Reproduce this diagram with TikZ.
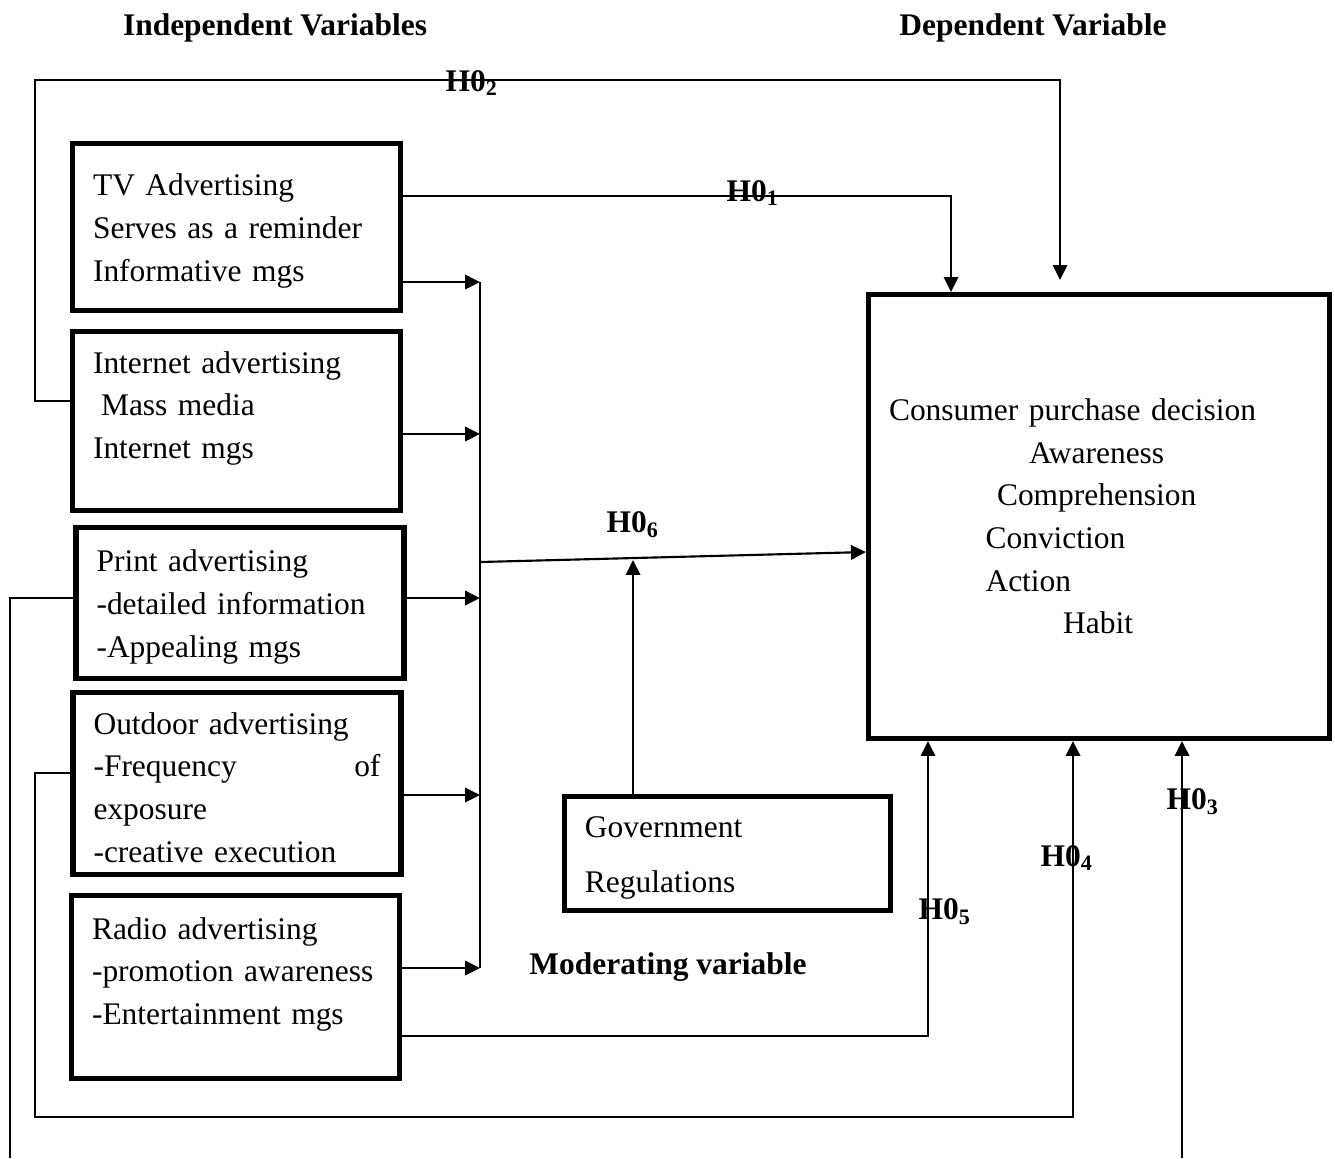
\documentclass[tikz,border=0pt]{standalone}
\usepackage{fontspec}
\setmainfont{Liberation Serif}
\usetikzlibrary{arrows.meta, positioning}

\begin{document}
\begin{tikzpicture}[x=0.375pt, y=-0.375pt,
        font=\fontsize{11.8}{16}\selectfont,
        block/.style={rectangle, draw, line width=1.9pt, align=left, inner xsep=7.7pt, inner ysep=0pt, text width=107.6pt, text height=11.2pt},
        line/.style={draw, line width=0.8pt, -{Triangle[length=5.6pt, width=5.4pt]}},
        link/.style={draw, line width=0.8pt},
        hyp/.style={font=\fontsize{11.8}{16}\selectfont\bfseries},
        heading/.style={font=\fontsize{11.8}{16}\selectfont\bfseries}
    ]
        \useasboundingbox (0,0) rectangle (1335,1158);
        % Headings
        \node[heading] (indep) at (275,28) {Independent Variables};
        \node[heading] (dep) at (1033,28) {Dependent Variable};
        % Independent variables
        \node[block, minimum height=62.6pt] (tv) at (236.5,227) {TV Advertising\\ Serves as a reminder\\ Informative mgs};
        \node[block, minimum height=67.1pt, text height=12.2pt] (internet) at (236.5,421) {Internet advertising\\ \hspace*{3pt}Mass media\\ Internet mgs\\ \mbox{}};
        \node[block, minimum height=56.6pt] (print) at (240,603) {Print advertising\\ -detailed information\\ -Appealing mgs};
        \node[block, minimum height=68.3pt] (outdoor) at (237,783.5) {Outdoor advertising\\ -Frequency\hskip0pt plus1filll of\\ exposure\\ -creative execution};
        \node[block, minimum height=68.6pt, text height=12.2pt] (radio) at (235.5,987) {Radio advertising\\ -promotion awareness\\ -Entertainment mgs\\ \mbox{}};
        % Dependent variable
        \node[block, text width=157.5pt, minimum height=166.5pt, text height=8pt] (decision) at (1099,516.5) {Consumer purchase decision\\
            \hspace*{52.5pt}Awareness\\
            \hspace*{40.5pt}Comprehension\\
            \hspace*{36.2pt}Conviction\\
            \hspace*{36.2pt}Action\\
            \hspace*{65.3pt}Habit};
        % Moderating variable
        \node[block, text width=106.9pt, minimum height=42.75pt] (govt) at (727.5,853.5) {Government\\[4.6pt] Regulations};
        \node[heading] (moder) at (668,967) {Moderating variable};
        % Hypotheses
        \node[hyp] (hzero1) at (753,193) {H0\textsubscript{1}};
        \node[hyp] (hzero2) at (472,83) {H0\textsubscript{2}};
        \node[hyp] (hzero3) at (1193,802) {H0\textsubscript{3}};
        \node[hyp] (hzero4) at (1067,858) {H0\textsubscript{4}};
        \node[hyp] (hzero5) at (945,912) {H0\textsubscript{5}};
        \node[hyp] (hzero6) at (633,525) {H0\textsubscript{6}};
        % Bus
        \coordinate (b1) at (480,282);
        \coordinate (b2) at (480,434);
        \coordinate (b3) at (480,598);
        \coordinate (b4) at (480,795);
        \coordinate (b5) at (480,968);
        \coordinate (b6) at (480,562);
        \path[line] (tv.east |- b1) -- (b1);
        \path[line] (internet.east |- b2) -- (b2);
        \path[line] (print.east |- b3) -- (b3);
        \path[line] (outdoor.east |- b4) -- (b4);
        \path[line] (radio.east |- b5) -- (b5);
        \path[link] (b1) -- (b5);
        % Connections
        \coordinate (h6) at (866,552);
        \coordinate (m6) at (633,560);
        \path[line] (b6) -- (decision.west |- h6);
        \path[line] (govt.north -| m6) -- (m6);
        \coordinate (h1) at (951,196);
        \path[line] (tv.east |- h1) -| (decision.north -| h1);
        \coordinate (h2a) at (35,401);
        \coordinate (h2b) at (1060,80);
        \path[line, shorten >=4.5pt] (internet.west |- h2a) -- (h2a) |- (h2b) -- (decision.north -| h2b);
        \coordinate (h3a) at (10,598);
        \coordinate (h3b) at (10,1158);
        \coordinate (h3c) at (1182,1158);
        \path[link] (print.west |- h3a) -- (h3a) -- (h3b);
        \path[line] (h3c) -- (decision.south -| h3c);
        \coordinate (h4a) at (35,773);
        \coordinate (h4b) at (1073,1117);
        \path[line] (outdoor.west |- h4a) -- (h4a) |- (h4b) -- (decision.south -| h4b);
        \coordinate (h5) at (928,1036);
        \path[line] (radio.east |- h5) -| (decision.south -| h5);
    \end{tikzpicture}
\end{document}
